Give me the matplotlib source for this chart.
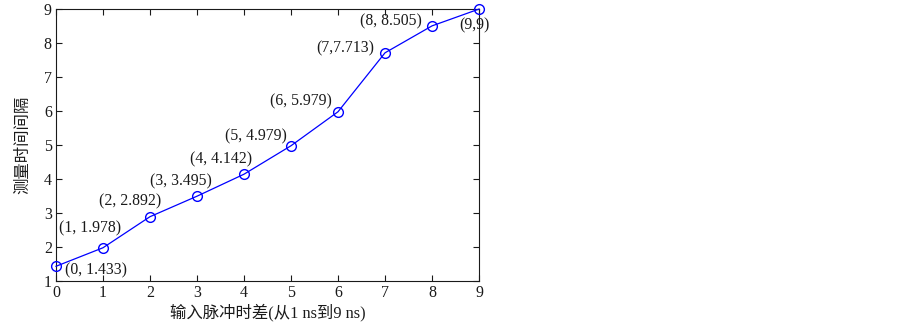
import matplotlib
matplotlib.use("Agg")
import matplotlib.pyplot as plt

x_vals = [0, 1, 2, 3, 4, 5, 6, 7, 8, 9]
y_vals = [1.433, 1.978, 2.892, 3.495, 4.142, 4.979, 5.979, 7.713, 8.505, 9.0]
labels = ["(0, 1.433)", "(1, 1.978)", "(2, 2.892)", "(3, 3.495)", "(4, 4.142)",
          "(5, 4.979)", "(6, 5.979)", "(7,7.713)", "(8, 8.505)", "(9,9)"]
xlabel = "输入脉冲时差(从1 ns到9 ns)"
ylabel = "测量时间间隔"

# label offsets (pixels) relative to each point
offsets = [(40, -4), (-13, 19), (-20, 15), (-16, 15), (-23, 15),
           (-35, 9), (-37, 10), (-40, 4), (-41, 4), (-5, -16)]

fonts = ['Liberation Serif', 'Noto Sans CJK SC']
plt.rcParams['font.family'] = fonts

fig = plt.figure(figsize=(9.03, 3.23), dpi=100)
ax = fig.add_axes([0.062, 0.130, 0.4685, 0.842])
ax.plot(x_vals, y_vals, color='#0000ff', lw=0.9, marker='o', ms=7,
        mfc='none', mec='#0000ff', mew=1.0, clip_on=False, zorder=3)
for xv, yv, lab, (dx, dy) in zip(x_vals, y_vals, labels, offsets):
    ax.annotate(lab, (xv, yv), xytext=(dx, dy), textcoords='offset pixels',
                ha='center', va='center', fontsize=11.3, color='#1a1a1a')
ax.set_xlim(0, 9)
ax.set_ylim(1, 9)
ax.set_xticks(range(0, 10))
ax.set_yticks(range(1, 10))
ax.tick_params(direction='in', top=True, right=True, length=4, width=0.8,
               labelsize=11.5, pad=3, colors='#1a1a1a')
for s in ax.spines.values():
    s.set_linewidth(0.8)
    s.set_color('#1a1a1a')
ax.set_xlabel(xlabel, fontsize=11.8, labelpad=2, color='#1a1a1a')
ax.set_ylabel(ylabel, fontsize=11.8, labelpad=9, color='#1a1a1a')
fig.savefig("out.png", dpi=100)
